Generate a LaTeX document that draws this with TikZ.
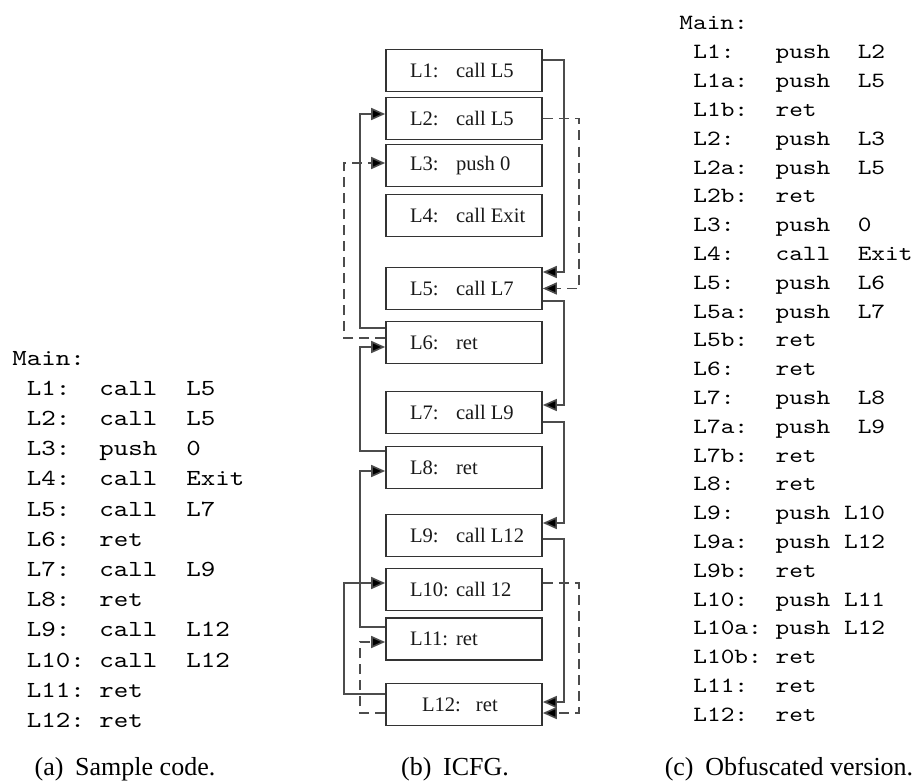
\documentclass[tikz,border=0pt]{standalone}
\usepackage{fontspec}
\setmainfont{Liberation Serif}
\newfontfamily\codefont{lmmono10-regular}[Extension=.otf,FakeStretch=1.2]
\usetikzlibrary{arrows.meta,calc}

% label column and opcode column inside a block
\newcommand{\instr}[2]{\makebox[54pt][l]{\makebox[23pt][l]{#1}#2}}

\tikzset{
  blk/.style={draw=black!80, line width=0.85pt, minimum width=78pt, minimum height=21pt,
    inner sep=0pt, font=\fontsize{10.3}{12}\selectfont, text=black!90},
  cfarrow/.style={draw=black!70, line width=0.8pt, -{Triangle[length=7pt,width=6pt,fill=black]}},
  dasharrow/.style={cfarrow, dash pattern=on 5pt off 3pt},
  code/.style={anchor=base west, inner sep=0pt, text=black},
  srcfont/.style={font=\codefont\fontsize{11.5}{13}\selectfont},
  obffont/.style={font=\codefont\fontsize{10.87}{13}\selectfont},
  capt/.style={anchor=base, inner sep=0pt, font=\fontsize{13}{15}\selectfont}
}

\begin{document}
\begin{tikzpicture}[x=0.5pt,y=-0.5pt]
\useasboundingbox (0,0) rectangle (915,781);

% (a) sample code
\node[code,srcfont] (amain) at (12,365) {Main:};
\foreach \codeline [count=\i] in {L1:~~call~~L5, L2:~~call~~L5, L3:~~push~~0,
    L4:~~call~~Exit, L5:~~call~~L7, L6:~~ret, L7:~~call~~L9, L8:~~ret,
    L9:~~call~~L12, L10:~call~~L12, L11:~ret, L12:~ret}
  \node[code,srcfont] (a\i) at (26.5,365+30.2*\i) {\codeline};

% (b) ICFG blocks
\node[blk] (b1) at (464,70.5) {\instr{L1:}{call L5}};
\node[blk] (b2) at (464,118.5) {\instr{L2:}{call L5}};
\node[blk] (b3) at (464,165.5) {\instr{L3:}{push 0}};
\node[blk] (b4) at (464,215.5) {\instr{L4:}{call Exit}};
\node[blk] (b5) at (464,288.5) {\instr{L5:}{call L7}};
\node[blk] (b6) at (464,342.5) {\instr{L6:}{ret}};
\node[blk] (b7) at (464,412.5) {\instr{L7:}{call L9}};
\node[blk] (b8) at (464,467.5) {\instr{L8:}{ret}};
\node[blk] (b9) at (464,535.5) {\instr{L9:}{call L12}};
\node[blk] (b10) at (464,589.5) {\instr{L10:}{call 12}};
\node[blk] (b11) at (464,639) {\instr{L11:}{ret}};
\node[blk] (b12) at (464,704.5) {\instr{\hspace{6pt}L12:}{\hspace{10pt}ret}};

% calls, right side
\draw[cfarrow] ($(b1.east)+(0,-10.5)$) -- ++(21,0) |- ($(b5.east)+(0,-16.5)$);
\draw[dasharrow] (b2.east) -- ++(36,0) |- (b5.east);
\draw[cfarrow] ($(b5.east)+(0,12.5)$) -- ++(21,0) |- ($(b7.east)+(0,-7.5)$);
\draw[cfarrow] ($(b7.east)+(0,9.5)$) -- ++(21,0) |- ($(b9.east)+(0,-12.5)$);
\draw[cfarrow] ($(b9.east)+(0,3.5)$) -- ++(21,0) |- ($(b12.east)+(0,-2.5)$);
\draw[dasharrow] ($(b10.east)+(0,-6.5)$) -- ++(36,0) |- ($(b12.east)+(0,8.5)$);

% returns, left side
\draw[cfarrow] ($(b6.west)+(0,-14.5)$) -- ++(-25,0) |- ($(b2.west)+(0,-4.5)$);
\draw[dasharrow] ($(b6.west)+(0,-4.5)$) -- ++(-41,0) |- ($(b3.west)+(0,-2.5)$);
\draw[cfarrow] ($(b8.west)+(0,-16.5)$) -- ++(-25,0) |- ($(b6.west)+(0,4.5)$);
\draw[cfarrow] ($(b11.west)+(0,-12)$) -- ++(-25,0) |- ($(b8.west)+(0,3.5)$);
\draw[cfarrow] ($(b12.west)+(0,-10.5)$) -- ++(-41,0) |- ($(b10.west)+(0,-6.5)$);
\draw[dasharrow] ($(b12.west)+(0,8.5)$) -- ++(-25,0) |- ($(b11.west)+(0,3)$);

% (c) obfuscated version
\node[code,obffont] (cmain) at (679,30) {Main:};
\foreach \codeline [count=\i] in {L1:~~~push~~L2, L1a:~~push~~L5, L1b:~~ret,
    L2:~~~push~~L3, L2a:~~push~~L5, L2b:~~ret, L3:~~~push~~0, L4:~~~call~~Exit,
    L5:~~~push~~L6, L5a:~~push~~L7, L5b:~~ret, L6:~~~ret, L7:~~~push~~L8,
    L7a:~~push~~L9, L7b:~~ret, L8:~~~ret, L9:~~~push~L10, L9a:~~push~L12,
    L9b:~~ret, L10:~~push~L11, L10a:~push~L12, L10b:~ret, L11:~~ret, L12:~~ret}
  \node[code,obffont] (c\i) at (693,30+28.8*\i) {\codeline};

% captions
\node[capt] (capa) at (125,775) {(a)\hspace{0.45em}Sample code.};
\node[capt] (capb) at (455,775) {(b)\hspace{0.45em}ICFG.};
\node[capt] (capc) at (789,775) {(c)\hspace{0.45em}Obfuscated version.};
\end{tikzpicture}
\end{document}
